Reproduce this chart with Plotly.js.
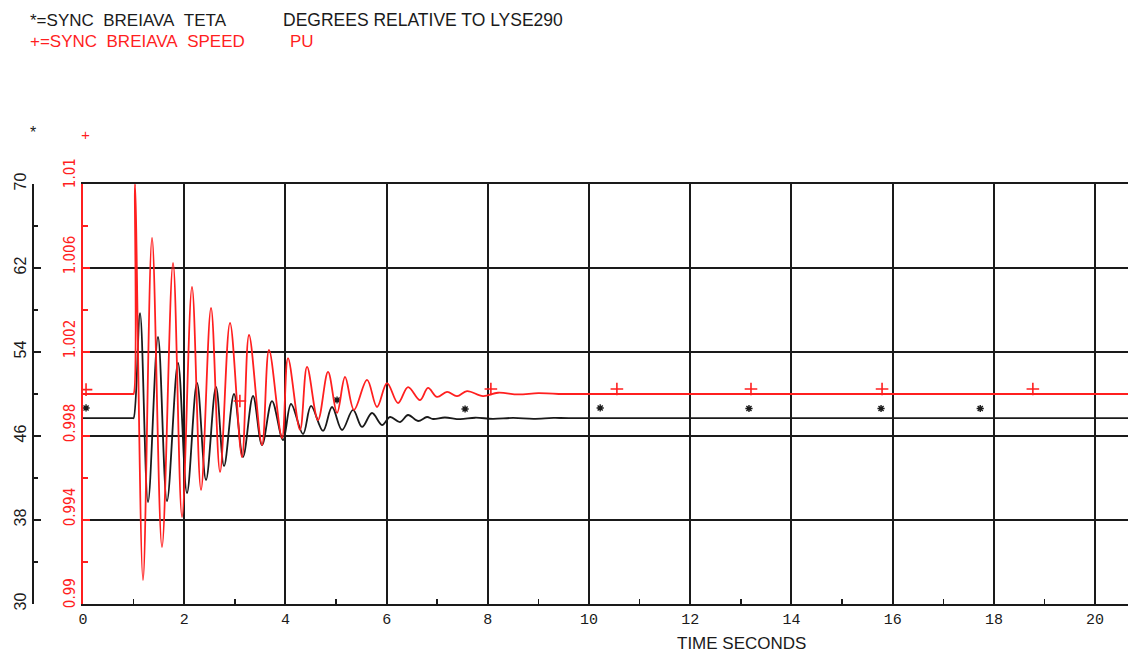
<!DOCTYPE html>
<html>
<head>
<meta charset="utf-8">
<script src="https://cdn.plot.ly/plotly-3.0.1.min.js"></script>
<style>
  html, body { margin: 0; padding: 0; background: #fff; }
  #chart { width: 1128px; height: 652px; }
</style>
</head>
<body>
<div id="chart"></div>
<script>
// ---- data ----
const speedTime = [0, 0.98, 1.0, 1.028, 1.186, 1.364, 1.561, 1.779, 1.957, 2.154, 2.332, 2.53, 2.708, 2.905, 3.142, 3.281, 3.538, 3.676, 3.933, 4.051, 4.289, 4.427, 4.644, 4.842, 5.02, 5.178, 5.356, 5.613, 5.81, 6.008, 6.225, 6.423, 6.66, 6.818, 6.996, 7.194, 7.391, 7.589, 7.905, 8.2, 8.6, 9.0, 9.4, 20.65];
const speedValue = [1.0, 1.0, 1.0, 1.01, 0.99114, 1.00743, 0.99271, 1.00624, 0.99414, 1.0051, 0.99543, 1.0041, 0.99629, 1.00338, 0.997, 1.00281, 0.99757, 1.0021, 0.9979, 1.00171, 0.99829, 1.00129, 0.99876, 1.00105, 0.9991, 1.00081, 0.99924, 1.00067, 0.99938, 1.00052, 0.99957, 1.00033, 0.99971, 1.00029, 0.99986, 1.0001, 0.9999, 1.00014, 0.9999, 1.00006, 0.99998, 1.00004, 1.0, 1.0];

const tetaTime = [0, 0.98, 1.0, 1.127, 1.285, 1.482, 1.66, 1.877, 2.055, 2.253, 2.431, 2.628, 2.787, 2.984, 3.162, 3.36, 3.538, 3.735, 3.953, 4.111, 4.348, 4.506, 4.743, 4.921, 5.119, 5.336, 5.514, 5.711, 5.909, 6.067, 6.265, 6.423, 6.621, 6.798, 6.917, 7.15, 7.45, 7.75, 8.1, 8.5, 8.9, 9.3, 9.6, 20.65];
const tetaValue = [47.7, 47.7, 47.7, 57.71, 39.71, 55.43, 39.81, 52.95, 40.57, 51.05, 41.81, 50.67, 43.14, 50.0, 44.0, 49.81, 45.14, 49.33, 45.62, 49.05, 46.19, 48.86, 46.48, 48.76, 46.57, 48.48, 46.86, 48.19, 47.05, 47.81, 47.33, 48.0, 47.43, 47.81, 47.62, 47.76, 47.6, 47.74, 47.64, 47.72, 47.64, 47.72, 47.7, 47.7];

// curve identification symbols
const speedMarkTime = [0.06, 3.10, 8.06, 10.55, 13.2, 15.79, 18.77];
const speedMarkValue = [1.00021, 0.99967, 1.00024, 1.00024, 1.00024, 1.00024, 1.00024];
const tetaMarkTime = [0.06, 5.02, 7.55, 10.22, 13.16, 15.77, 17.73];
const tetaMarkValue = [48.67, 49.43, 48.57, 48.67, 48.62, 48.62, 48.62];

// axes ticks
const timeTicks = [0, 2, 4, 6, 8, 10, 12, 14, 16, 18, 20];
const timeTickText = ['0', '2', '4', '6', '8', '10', '12', '14', '16', '18', '20'];
const tetaTicks = [30, 38, 46, 54, 62, 70];
const tetaTickText = ['30', '38', '46', '54', '62', '70'];
const speedTicks = [0.99, 0.994, 0.998, 1.002, 1.006, 1.01];
const speedTickText = ['0.99', '0.994', '0.998', '1.002', '1.006', '1.01'];

const titleTeta = '*=SYNC&nbsp;&nbsp;BREIAVA&nbsp;&nbsp;TETA';
const titleTetaUnit = 'DEGREES RELATIVE TO LYSE290';
const titleSpeed = '+=SYNC&nbsp;&nbsp;BREIAVA&nbsp;&nbsp;SPEED';
const titleSpeedUnit = 'PU';
const xTitle = 'TIME SECONDS';

// ---- layout helpers (pixel -> paper) ----
const W = 1128, H = 652, ML = 10, MR = 0, MT = 184, MB = 48;
const PW = W - ML - MR, PH = H - MT - MB;
const px = p => (p - ML) / PW;
const py = p => (H - MB - p) / PH;

const RED = '#ff1f1f';
const INK = '#1a1a1a';
const hershey = 'Liberation Mono, DejaVu Sans Mono, monospace';
const narrow = 'Liberation Sans Narrow, DejaVu Sans Condensed, Liberation Mono, monospace';
const sans = 'Liberation Sans, Arial, sans-serif';

// left-align rotated speed labels at their tick
const speedLabels = speedTickText.map(s => '\u00a0'.repeat(s.length) + s);

const traces = [
  {x: speedTime, y: speedValue, yaxis: 'y2', type: 'scatter', mode: 'lines',
   line: {color: RED, width: 1.8, shape: 'spline', smoothing: 1}, hoverinfo: 'skip'},
  {x: tetaTime, y: tetaValue, yaxis: 'y', type: 'scatter', mode: 'lines',
   line: {color: INK, width: 1.8, shape: 'spline', smoothing: 1}, hoverinfo: 'skip'},
  {x: speedMarkTime, y: speedMarkValue, yaxis: 'y2', type: 'scatter', mode: 'markers',
   marker: {symbol: 'cross-thin-open', size: 9, color: RED, line: {color: RED, width: 1.6}}, hoverinfo: 'skip'},
  {x: tetaMarkTime, y: tetaMarkValue, yaxis: 'y', type: 'scatter', mode: 'markers',
   marker: {symbol: 'asterisk-open', size: 6, color: INK, line: {color: INK, width: 1.4}}, hoverinfo: 'skip'}
];

const layout = {
  width: W, height: H,
  margin: {l: ML, r: MR, t: MT, b: MB, pad: 0},
  paper_bgcolor: '#fff', plot_bgcolor: '#fff',
  showlegend: false,
  xaxis: {
    domain: [px(83), 1], range: [0, 20.65],
    tickmode: 'array', tickvals: timeTicks, ticktext: timeTickText,
    showgrid: true, gridcolor: INK, gridwidth: 2,
    showline: true, linecolor: INK, linewidth: 2, mirror: true,
    ticks: '', zeroline: false,
    minor: {tick0: 1, dtick: 2, ticks: 'inside', ticklen: 5, tickwidth: 1.5, tickcolor: INK, showgrid: false},
    tickfont: {family: hershey, size: 15, color: INK}
  },
  yaxis: {
    anchor: 'free', position: px(33), side: 'left', range: [30, 70],
    tickmode: 'array', tickvals: tetaTicks, ticktext: tetaTickText,
    showgrid: true, gridcolor: INK, gridwidth: 2,
    showline: true, linecolor: INK, linewidth: 2,
    ticks: 'inside', ticklen: 7, tickwidth: 2, tickcolor: INK,
    minor: {tick0: 30, dtick: 4, ticks: 'inside', ticklen: 4, tickwidth: 1.5, tickcolor: INK, showgrid: false},
    zeroline: false, tickangle: -90,
    tickfont: {family: sans, size: 16, color: INK}
  },
  yaxis2: {
    overlaying: 'y', anchor: 'x', side: 'left', range: [0.99, 1.01],
    tickmode: 'array', tickvals: speedTicks, ticktext: speedLabels,
    showgrid: false, showline: true, linecolor: RED, linewidth: 2,
    ticks: 'inside', ticklen: 7, tickwidth: 2, tickcolor: RED,
    minor: {tick0: 0.99, dtick: 0.002, ticks: 'inside', ticklen: 5, tickwidth: 1.5, tickcolor: RED, showgrid: false},
    zeroline: false, tickangle: -90,
    tickfont: {family: narrow, size: 15, color: RED}
  },
  annotations: [
    {xref: 'paper', yref: 'paper', x: px(28), y: py(20), xanchor: 'left', yanchor: 'middle', showarrow: false,
     text: titleTeta, font: {family: sans, size: 17, color: INK}},
    {xref: 'paper', yref: 'paper', x: px(281), y: py(20), xanchor: 'left', yanchor: 'middle', showarrow: false,
     text: titleTetaUnit, font: {family: sans, size: 17.5, color: INK}},
    {xref: 'paper', yref: 'paper', x: px(28), y: py(41), xanchor: 'left', yanchor: 'middle', showarrow: false,
     text: titleSpeed, font: {family: sans, size: 17, color: RED}},
    {xref: 'paper', yref: 'paper', x: px(288), y: py(41), xanchor: 'left', yanchor: 'middle', showarrow: false,
     text: titleSpeedUnit, font: {family: sans, size: 17, color: RED}},
    {xref: 'paper', yref: 'paper', x: px(33), y: py(132), xanchor: 'center', yanchor: 'middle', showarrow: false,
     text: '*', font: {family: sans, size: 16, color: INK}},
    {xref: 'paper', yref: 'paper', x: px(85), y: py(136), xanchor: 'center', yanchor: 'middle', showarrow: false,
     text: '+', font: {family: hershey, size: 15, color: RED}},
    {xref: 'paper', yref: 'paper', x: px(741), y: py(643), xanchor: 'center', yanchor: 'middle', showarrow: false,
     text: xTitle, font: {family: sans, size: 17, color: INK}}
  ]
};

Plotly.newPlot('chart', traces, layout, {displayModeBar: false, staticPlot: true});
</script>
</body>
</html>
